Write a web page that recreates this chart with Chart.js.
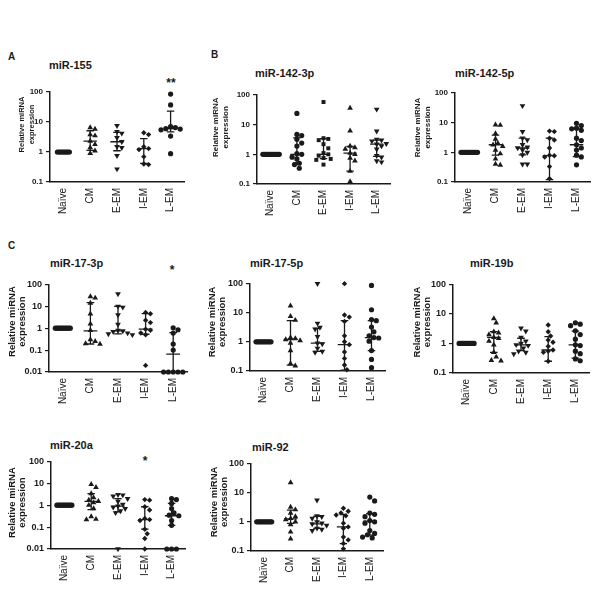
<!DOCTYPE html>
<html><head><meta charset="utf-8">
<script src="https://cdn.jsdelivr.net/npm/chart.js@4.4.1/dist/chart.umd.min.js"></script>
<style>
html,body{margin:0;padding:0;background:#fff;}
body{width:600px;height:592px;position:relative;overflow:hidden;font-family:"Liberation Sans",Arial,sans-serif;color:#1a1a1a;}
canvas{position:absolute;}
.lbl{position:absolute;font-weight:bold;white-space:nowrap;}
.let{font-size:10px;line-height:10px;}
.ttl{font-size:11px;line-height:11px;}
.sig{font-size:12px;line-height:12px;width:40px;text-align:center;}
</style></head><body>
<div class="lbl let" style="left:8px;top:52px">A</div>
<div class="lbl let" style="left:211px;top:50px">B</div>
<div class="lbl let" style="left:8px;top:241px">C</div>
<div class="lbl ttl" style="left:49px;top:59.6px">miR-155</div>
<div class="lbl ttl" style="left:255px;top:67.6px">miR-142-3p</div>
<div class="lbl ttl" style="left:455px;top:67.6px">miR-142-5p</div>
<div class="lbl ttl" style="left:50px;top:258px">miR-17-3p</div>
<div class="lbl ttl" style="left:250px;top:258px">miR-17-5p</div>
<div class="lbl ttl" style="left:470px;top:258px">miR-19b</div>
<div class="lbl ttl" style="left:50px;top:439.6px">miR-20a</div>
<div class="lbl ttl" style="left:252px;top:441.6px">miR-92</div>
<div class="lbl sig" style="left:151px;top:77px">**</div>
<div class="lbl sig" style="left:152px;top:264px">*</div>
<div class="lbl sig" style="left:125px;top:455px">*</div>
<script>
const categories = ['Naïve', 'CM', 'E-EM', 'I-EM', 'L-EM'];
const yTicks3 = [0.1, 1, 10, 100];
const yTicks4 = [0.01, 0.1, 1, 10, 100];
const yTitleLines = ['Relative miRNA', 'expression'];

// miR-155
const mir155Values = [
  [1, 1, 1, 1, 1, 1, 1, 1, 1],
  [6.5, 5.8, 3.8, 3.5, 2.3, 1.8, 1.4, 1.1, 0.9],
  [7.5, 4.8, 4.2, 3.0, 2.2, 1.5, 1.4, 0.75, 0.27],
  [4.4, 3.8, 1.5, 1.3, 1.2, 0.7, 0.4, 0.38],
  [85, 37, 7, 6.5, 6, 5.8, 5.5, 3.4, 0.88]
];
const mir155Median = [1, 2.3, 2.2, 1.3, 6];
const mir155Upper = [1, 5.1, 4.5, 2.8, 23];
const mir155Lower = [1, 1.14, 1.1, 0.42, 4.7];

// miR-142-3p
const mir142_3pValues = [
  [1, 1, 1, 1, 1, 1, 1, 1, 1, 1, 1, 1],
  [24, 4.7, 4.3, 3.2, 2.4, 1.9, 1.05, 1.0, 0.8, 0.7, 0.5, 0.45, 0.34],
  [58, 3.5, 3.3, 3.0, 2.2, 1.6, 1.1, 1.0, 0.9, 0.75, 0.7, 0.65, 0.45],
  [36, 6.2, 1.9, 1.7, 1.5, 1.1, 1.0, 0.75, 0.6, 0.27, 0.12],
  [33, 6, 3.2, 3.0, 2.8, 2.3, 2.2, 1.9, 1.5, 0.9, 0.8, 0.6, 0.55]
];
const mir142_3pMedian = [1, 1.0, 1.0, 1.1, 2.2];
const mir142_3pUpper = [1, 3.6, 3.4, 1.85, 3.0];
const mir142_3pLower = [1, 0.51, 0.72, 0.27, 0.85];

// miR-142-5p
const mir142_5pValues = [
  [1, 1, 1, 1, 1, 1, 1, 1, 1, 1, 1, 1],
  [8.5, 8.2, 4.3, 2.8, 2.0, 1.8, 1.6, 1.2, 0.9, 0.6, 0.4, 0.37],
  [37, 5, 3, 2.6, 1.8, 1.5, 1.4, 1.2, 1.0, 0.82, 0.4, 0.4],
  [5.2, 5.0, 3.0, 2.6, 1.4, 0.8, 0.77, 0.7, 0.33, 0.13],
  [9.5, 8, 6.5, 6.2, 5.5, 3, 2.5, 1.8, 1.4, 1.2, 0.8, 0.7, 0.38]
];
const mir142_5pMedian = [1, 1.8, 1.4, 0.77, 1.8];
const mir142_5pUpper = [1, 3.8, 3.0, 3.0, 6.2];
const mir142_5pLower = [1, 0.8, 0.82, 0.12, 0.72];

// miR-17-3p
const mir17_3pValues = [
  [1, 1, 1, 1, 1, 1, 1, 1, 1, 1, 1],
  [28, 24, 14, 4.5, 1.6, 0.8, 0.3, 0.25, 0.2, 0.19],
  [37, 10, 9, 4, 1.5, 0.8, 0.75, 0.7, 0.6, 0.55, 0.5],
  [5.2, 4.6, 2.3, 1.8, 0.9, 0.8, 0.6, 0.5, 0.02],
  [1.05, 0.85, 0.6, 0.19, 0.1, 0.01, 0.01, 0.01, 0.01, 0.01]
];
const mir17_3pMedian = [1, 0.75, 0.75, 0.9, 0.065];
const mir17_3pUpper = [1, 14.7, 10, 4.6, 0.63];
const mir17_3pLower = [1, 0.19, 0.55, 0.53, 0.01];

// miR-17-5p
const mir17_5pValues = [
  [1, 1, 1, 1, 1, 1, 1, 1, 1, 1, 1],
  [17, 7.5, 5.5, 1.4, 1.3, 1.2, 1.1, 0.9, 0.5, 0.18, 0.15],
  [98, 4.3, 3.1, 2.7, 1.5, 0.9, 0.85, 0.6, 0.47, 0.43],
  [98, 8.3, 7, 5, 1.6, 1.0, 0.8, 0.45, 0.27, 0.16, 0.11],
  [85, 12.5, 5.8, 5.3, 3.2, 2.2, 1.6, 1.4, 1.35, 1.05, 0.5, 0.25, 0.13]
];
const mir17_5pMedian = [1, 1.2, 0.9, 0.8, 1.4];
const mir17_5pUpper = [1, 5.3, 2.9, 5.3, 5.3];
const mir17_5pLower = [1, 0.16, 0.47, 0.106, 0.5];

// miR-19b
const mir19bValues = [
  [1, 1, 1, 1, 1, 1, 1, 1, 1, 1, 1],
  [7, 5, 2.5, 2.3, 2.0, 1.6, 1.5, 1.2, 0.9, 0.5, 0.35, 0.27, 0.26],
  [3.3, 2.6, 1.6, 1.2, 1.0, 0.9, 0.85, 0.7, 0.55, 0.5, 0.44],
  [4.2, 2.5, 1.8, 1.3, 1.1, 0.8, 0.6, 0.55, 0.5, 0.25],
  [5, 4.5, 4, 2.7, 2, 1.4, 0.9, 0.85, 0.55, 0.45, 0.3, 0.26]
];
const mir19bMedian = [1, 1.6, 0.9, 0.6, 0.9];
const mir19bUpper = [1, 2.5, 1.5, 1.7, 2.6];
const mir19bLower = [1, 0.5, 0.57, 0.25, 0.32];

// miR-20a
const mir20aValues = [
  [1, 1, 1, 1, 1, 1, 1, 1, 1, 1, 1],
  [9, 6.5, 3.4, 2.2, 1.7, 1.5, 1.3, 1.0, 0.7, 0.3, 0.23, 0.22],
  [3, 2.9, 2.6, 2.0, 1.5, 1.1, 0.9, 0.8, 0.7, 0.55, 0.45, 0.01],
  [1.8, 1.7, 0.85, 0.6, 0.25, 0.22, 0.2, 0.08, 0.05, 0.03, 0.01],
  [2, 1.8, 1.2, 0.7, 0.45, 0.35, 0.33, 0.2, 0.12, 0.01, 0.01, 0.01]
];
const mir20aMedian = [1, 1.5, 0.9, 0.22, 0.33];
const mir20aUpper = [1, 3.4, 2.0, 0.85, 1.2];
const mir20aLower = [1, 0.63, 0.5, 0.08, 0.12];

// miR-92
const mir92Values = [
  [1, 1, 1, 1, 1, 1, 1, 1, 1, 1, 1],
  [22, 3.2, 2.6, 2.0, 1.5, 1.3, 1.2, 1.0, 0.8, 0.45, 0.26],
  [5.5, 1.6, 1.5, 1.3, 1.0, 0.9, 0.85, 0.75, 0.6, 0.55, 0.5],
  [2.9, 2.3, 2.0, 1.7, 1.6, 0.9, 0.67, 0.6, 0.3, 0.24, 0.18, 0.12],
  [7, 5.2, 2.0, 1.8, 1.5, 1.1, 1.0, 0.9, 0.5, 0.4, 0.36, 0.3, 0.28]
];
const mir92Median = [1, 1.25, 0.85, 0.67, 1.05];
const mir92Upper = [1, 2.5, 1.55, 1.8, 1.9];
const mir92Lower = [1, 0.88, 0.6, 0.18, 0.35];

// ---- styles / layout ----
const INK = '#1a1a1a';
const FONT = '"Liberation Sans", Arial, sans-serif';
const M_CIRCLE = {style: 'circle', rot: 0, r: 2.6};
const M_TRI = {style: 'triangle', rot: 0, r: 3.3};
const M_TRID = {style: 'triangle', rot: 180, r: 3.3};
const M_DIA = {style: 'rectRot', rot: 0, r: 2.7};
const M_SQ = {style: 'rect', rot: 0, r: 2.8};
const markersStd = [M_CIRCLE, M_TRI, M_TRID, M_DIA, M_CIRCLE];
const markersB1 = [M_CIRCLE, M_CIRCLE, M_SQ, M_TRI, M_TRID];

// titleLift: leading blank characters that move the centred axis title upward
const panels = [
  {values: mir155Values, median: mir155Median, upper: mir155Upper, lower: mir155Lower, ticks: yTicks3, markers: markersStd,
   box: {left: 0, L: 50, T: 92, R: 184, B: 182}, titleSize: 7.5, titlePad: 17, tickSize: 8, titleLift: 12},
  {values: mir142_3pValues, median: mir142_3pMedian, upper: mir142_3pUpper, lower: mir142_3pLower, ticks: yTicks3, markers: markersB1,
   box: {left: 207, L: 257, T: 95, R: 390, B: 184}, titleSize: 8, titlePad: 3.5, tickSize: 8, titleLift: 11},
  {values: mir142_5pValues, median: mir142_5pMedian, upper: mir142_5pUpper, lower: mir142_5pLower, ticks: yTicks3, markers: markersStd,
   box: {left: 405, L: 455, T: 93, R: 590, B: 182}, titleSize: 8, titlePad: 7.5, tickSize: 8, titleLift: 9},
  {values: mir17_3pValues, median: mir17_3pMedian, upper: mir17_3pUpper, lower: mir17_3pLower, ticks: yTicks4, markers: markersStd,
   box: {left: 0, L: 49, T: 284, R: 187, B: 372}, titleSize: 9.5, titlePad: 7.5, tickSize: 9, titleLift: 5},
  {values: mir17_5pValues, median: mir17_5pMedian, upper: mir17_5pUpper, lower: mir17_5pLower, ticks: yTicks3, markers: markersStd,
   box: {left: 200, L: 250, T: 283, R: 385, B: 371}, titleSize: 9.5, titlePad: 7.5, tickSize: 9, titleLift: 4},
  {values: mir19bValues, median: mir19bMedian, upper: mir19bUpper, lower: mir19bLower, ticks: yTicks3, markers: markersStd,
   box: {left: 403, L: 453, T: 284, R: 589, B: 373}, titleSize: 9.5, titlePad: 9.5, tickSize: 9, titleLift: 5},
  {values: mir20aValues, median: mir20aMedian, upper: mir20aUpper, lower: mir20aLower, ticks: yTicks4, markers: markersStd,
   box: {left: 1, L: 51, T: 461, R: 185, B: 549}, titleSize: 9.5, titlePad: 6.5, tickSize: 9, titleLift: 2},
  {values: mir92Values, median: mir92Median, upper: mir92Upper, lower: mir92Lower, ticks: yTicks3, markers: markersStd,
   box: {left: 201, L: 251, T: 463, R: 383, B: 551}, titleSize: 9.5, titlePad: 8, tickSize: 9, titleLift: 4}
];

const PAD_TOP = 8, PAD_RIGHT = 6, X_H = 45;

// simple beeswarm: horizontal spread of points with near-equal values (in pixels)
function swarm(vals, stepPx, gapPx, pxDec, unitPx) {
  const placed = [];
  return vals.map(v => {
    const y = Math.log10(v) * pxDec;
    for (let k = 0; k < 80; k++) {
      const dx = (k === 0 ? 0 : (k % 2 ? 1 : -1) * Math.ceil(k / 2)) * stepPx;
      if (placed.every(p => Math.hypot(p.dx - dx, p.y - y) >= gapPx - 1e-6)) {
        placed.push({dx, y});
        return dx / unitPx;
      }
    }
    return 0;
  });
}

function buildPanel(p) {
  const b = p.box;
  const yw = b.L - b.left;
  const cv = document.createElement('canvas');
  const w = b.R - b.left + PAD_RIGHT;
  const h = PAD_TOP + (b.B - b.T) + X_H;
  cv.width = w; cv.height = h;
  cv.style.left = b.left + 'px';
  cv.style.top = (b.T - PAD_TOP) + 'px';
  cv.style.width = w + 'px'; cv.style.height = h + 'px';
  document.body.appendChild(cv);

  const yMin = p.ticks[0], yMax = p.ticks[p.ticks.length - 1];
  const pxDec = (b.B - b.T) / (Math.log10(yMax) - Math.log10(yMin));
  const unitPx = (b.R - b.L) / categories.length;

  const seg = [];
  const mw = 0.25, cw = 0.14;
  categories.forEach((c, i) => {
    seg.push({x: i - mw, y: p.median[i]}, {x: i + mw, y: p.median[i]}, {x: i, y: null});
    if (p.upper[i] !== p.lower[i]) {
      seg.push({x: i, y: p.lower[i]}, {x: i, y: p.upper[i]}, {x: i, y: null});
      seg.push({x: i - cw, y: p.upper[i]}, {x: i + cw, y: p.upper[i]}, {x: i, y: null});
      seg.push({x: i - cw, y: p.lower[i]}, {x: i + cw, y: p.lower[i]}, {x: i, y: null});
    }
  });

  const datasets = [{
    type: 'line', data: seg, borderColor: INK, borderWidth: 1.3, pointRadius: 0,
    fill: false, spanGaps: false, tension: 0, clip: false
  }];
  p.values.forEach((vals, i) => {
    const m = p.markers[i];
    const naive = i === 0;
    const offs = swarm(vals, naive ? 1.5 : 2.4, naive ? 1.5 : 4.8, pxDec, unitPx);
    datasets.push({
      type: 'scatter',
      data: vals.map((v, j) => ({x: i + offs[j], y: v})),
      pointStyle: m.style, rotation: m.rot, pointRadius: m.r,
      backgroundColor: INK, borderColor: INK, borderWidth: 0, clip: false
    });
  });

  const lift = ' '.repeat(p.titleLift);
  new Chart(cv, {
    type: 'scatter',
    data: {datasets},
    options: {
      responsive: false, animation: false, devicePixelRatio: 1,
      layout: {padding: {top: PAD_TOP, right: PAD_RIGHT, left: 0, bottom: 0}},
      plugins: {legend: {display: false}, tooltip: {enabled: false}, title: {display: false}},
      scales: {
        x: {
          type: 'linear', min: -0.5, max: categories.length - 0.5,
          afterBuildTicks: s => { s.ticks = categories.map((c, i) => ({value: i})); },
          afterFit: s => { s.height = X_H; },
          ticks: {autoSkip: false, minRotation: 90, maxRotation: 90, padding: 6, color: INK,
                  font: {family: FONT, size: 10}, callback: v => categories[v]},
          grid: {display: false, drawTicks: false},
          border: {display: true, color: INK, width: 1.5}
        },
        y: {
          type: 'logarithmic', min: yMin, max: yMax,
          afterBuildTicks: s => { s.ticks = p.ticks.map(v => ({value: v})); },
          afterFit: s => { s.width = yw; },
          ticks: {autoSkip: false, padding: 3, color: INK,
                  font: {family: FONT, size: p.tickSize, weight: 'bold'}, callback: v => String(v)},
          grid: {display: true, drawOnChartArea: false, drawTicks: true, tickLength: 4, color: INK, lineWidth: 1.2},
          border: {display: true, color: INK, width: 1.5},
          title: {display: true, text: yTitleLines.map(t => lift + t), color: INK,
                  font: {family: FONT, size: p.titleSize, weight: 'bold', lineHeight: '10px'},
                  padding: {top: p.titlePad, bottom: 0}}
        }
      }
    }
  });
}

panels.forEach(buildPanel);
</script>
</body></html>
